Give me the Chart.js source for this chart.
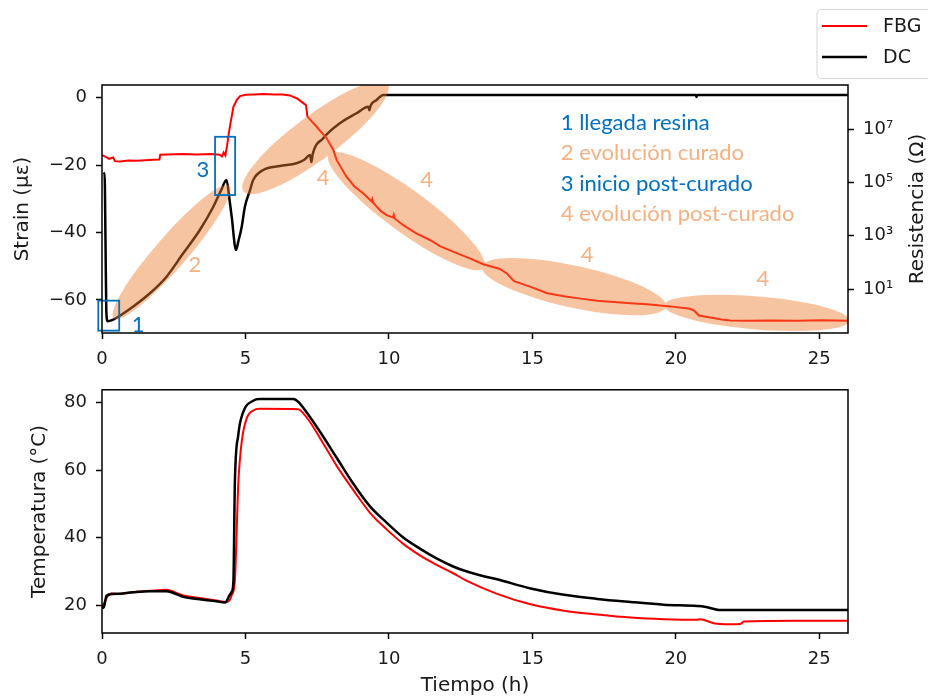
<!DOCTYPE html>
<html lang="es">
<head>
<meta charset="UTF-8">
<title>Strain, resistencia y temperatura</title>
<script src="https://cdn.jsdelivr.net/npm/chart.js@4.4.1/dist/chart.umd.min.js"></script>
<style>
    html, body { margin: 0; padding: 0; background: #fff; }
    #wrap { position: relative; width: 928px; height: 696px; overflow: hidden; }
    #strainChart { position: absolute; left: 0; top: 0; }
    #tempChart { position: absolute; left: 0; top: 370px; }
</style>
</head>
<body>
<div id="wrap">
    <canvas id="strainChart" width="928" height="380"></canvas>
    <canvas id="tempChart" width="928" height="326"></canvas>
</div>
<script>
// ---- data ----
const timeTicks = [0, 5, 10, 15, 20, 25];
const strainTicks = [-60, -40, -20, 0];
const resTicks = [10, 1e3, 1e5, 1e7];
const tempTicks = [20, 40, 60, 80];

// FBG strain (µε)
const tStrainFbg = [0, 0.1, 0.16, 0.25, 0.39, 0.45, 0.63, 0.92, 1.2, 1.5, 1.8, 2.0, 2.03, 2.3, 2.8, 3.3, 3.8, 4.1, 4.18, 4.24, 4.3,
    4.36, 4.42, 4.5, 4.58, 4.7, 4.81, 5.0, 5.3, 5.62, 6.0, 6.3, 6.55, 6.8, 6.96, 7.11, 7.16, 7.48, 7.83, 8.06, 8.18, 8.52, 8.8,
    9.11, 9.4, 9.42, 9.46, 9.7, 9.92, 10.14, 10.17, 10.21, 10.5, 10.97, 11.43, 11.78, 12.36, 12.8, 13.29, 13.87, 14.12, 14.36,
    14.94, 15.52, 16.1, 16.68, 17.26, 17.84, 18.42, 19.0, 19.81, 20.5, 20.65, 20.8, 21.2, 21.6, 21.9, 22.5, 23.3, 24.2, 25.1, 26];
const strainFbg = [-17.0, -17.4, -17.7, -18.1, -17.7, -18.8, -18.9, -18.6, -18.7, -18.5, -18.4, -18.3, -16.9, -16.8, -16.7, -16.8, -16.7, -16.9, -17.4, -16.2, -17.1,
    -14.2, -10.5, -6.5, -2.7, -0.6, 0.5, 0.9, 1.0, 1.1, 1.0, 1.0, 0.7, -0.2, -1.2, -2.2, -5.6, -8.6, -12.0, -15.5, -18.5, -23.4, -26.3,
    -28.4, -30.8, -30.1, -31.2, -33.5, -34.8, -35.5, -34.7, -35.9, -37.8, -40.3, -42.2, -44.0, -46.1, -47.6, -49.4, -50.8, -52.2, -54.4,
    -56.1, -58.0, -58.9, -59.6, -60.2, -60.6, -61.0, -61.3, -61.9, -62.6, -63.2, -64.6, -65.2, -65.8, -66.1, -66.2, -66.1, -66.2, -66.0, -66.2];

// DC resistance (Ω)
const tDc = [0.06, 0.09, 0.12, 0.15, 0.2, 0.35, 0.57, 1.09, 1.67, 2.25, 2.83, 3.41, 3.88, 4.15, 4.34, 4.45, 4.52, 4.67, 4.75, 4.87,
    4.98, 5.16, 5.27, 5.62, 6.2, 6.78, 7.05, 7.25, 7.3, 7.34, 7.71, 8.29, 8.87, 9.28, 9.32, 9.36, 9.57, 9.8, 20.7, 20.72, 20.74, 26];
const resDc = [2.0e5, 2.2e5, 1e3, 1.5, 0.62, 0.68, 0.91, 2.2, 6.9, 29, 218, 1630, 1.22e4, 5.0e4, 1.22e5, 2.0e4, 5150, 290, 600, 2170,
    1.22e4, 5.16e4, 1.22e5, 2.9e5, 4.1e5, 5.2e5, 7.0e5, 1.06e6, 5.8e5, 1.1e6, 4.5e6, 1.64e7, 3.9e7, 6.9e7, 5.1e7, 7.5e7, 1.22e8, 1.88e8, 1.88e8, 1.6e8, 1.88e8, 1.88e8];

// temperature (°C)
const tTempFbg = [0, 0.1, 0.2, 0.34, 0.5, 1.09, 1.67, 2.25, 2.4, 2.83, 3.41, 3.99, 4.34, 4.45, 4.52, 4.63, 4.75, 4.87, 5.04, 5.27,
    5.5, 6.84, 7.0, 7.25, 7.6, 8.18, 8.76, 9.34, 9.92, 10.5, 11.08, 11.66, 12.24, 12.7, 13.77, 14.94, 16.1, 17.26, 18.42, 19.58,
    20.74, 20.85, 21.32, 21.9, 22.25, 22.37, 24.2, 26];
const tempFbg = [19.3, 21.0, 22.8, 23.6, 23.3, 23.9, 24.3, 24.6, 24.3, 22.9, 22.2, 21.4, 21.0, 21.5, 23.0, 27.1, 56.0, 68.5, 75.3, 77.7,
    78.2, 78.1, 77.0, 74.3, 69.5, 61.3, 54.1, 47.4, 42.5, 38.2, 34.8, 32.0, 29.5, 27.3, 23.4, 20.3, 18.4, 17.3, 16.4, 15.9,
    15.7, 15.9, 14.7, 14.4, 14.5, 15.2, 15.4, 15.4];
const tTempDc = [0, 0.07, 0.16, 0.51, 1.09, 1.67, 2.25, 2.83, 3.41, 3.99, 4.29, 4.44, 4.52, 4.58, 4.63, 4.75, 4.92, 5.27, 5.5, 6.67,
    6.85, 7.13, 7.6, 8.18, 8.76, 9.34, 9.92, 10.5, 11.08, 11.66, 12.24, 12.61, 13.17, 13.77, 14.94, 16.1, 17.26, 18.42, 19.58,
    20.74, 21.0, 21.56, 21.9, 26];
const tempDc = [19.1, 19.6, 22.9, 23.4, 23.9, 24.2, 24.2, 22.5, 21.8, 21.2, 20.8, 22.9, 24.0, 27.1, 56.0, 70.5, 77.2, 80.6, 81.1, 81.1,
    80.2, 77.2, 71.4, 63.7, 56.0, 49.3, 44.5, 40.1, 36.8, 33.9, 31.5, 30.3, 28.9, 27.7, 25.0, 23.1, 21.9, 21.0, 20.2,
    19.8, 19.6, 18.6, 18.6, 18.6];

// ---- annotations on the strain plot (time, strain) ----
const ellipses = [
    { t: 2.42, s: -45.8, rx: 88, ry: 16, rot: -49 },
    { t: 7.44, s: -11.8, rx: 90, ry: 22, rot: -36.7 },
    { t: 10.61, s: -33.6, rx: 96, ry: 21, rot: 36.2 },
    { t: 16.45, s: -56.05, rx: 94, ry: 21, rot: 12.3 },
    { t: 22.82, s: -63.85, rx: 93, ry: 16.5, rot: 4.7 }
];
const boxes = [
    { t0: -0.13, t1: 0.60, s0: -60.2, s1: -69.1 },
    { t0: 3.94, t1: 4.64, s0: -11.57, s1: -28.86 }
];
const BLUE = '#0070C0';
const ORANGE = '#F4B183';
const marks = [
    { text: '1', t: 1.26, s: -67.4, color: BLUE },
    { text: '2', t: 3.24, s: -49.6, color: ORANGE },
    { text: '3', t: 3.52, s: -21.4, color: BLUE },
    { text: '4', t: 7.71, s: -23.9, color: ORANGE },
    { text: '4', t: 11.31, s: -24.4, color: ORANGE },
    { text: '4', t: 16.91, s: -46.6, color: ORANGE },
    { text: '4', t: 23.03, s: -53.6, color: ORANGE }
];
const keyLines = [
    { text: '1 llegada resina', s: -7.5, color: BLUE },
    { text: '2 evolución curado', s: -16.5, color: ORANGE },
    { text: '3 inicio post-curado', s: -25.6, color: BLUE },
    { text: '4 evolución post-curado', s: -34.5, color: ORANGE }
];
const keyT = 15.99;

Chart.defaults.font.family = "'DejaVu Sans', sans-serif";
Chart.defaults.color = '#1a1a1a';

const pts = (xs, ys) => xs.map((x, i) => ({ x: x, y: ys[i] }));
const minus = (v) => v < 0 ? '\u2212' + Math.abs(v) : String(v);
const sup = { 1: '\u00b9', 3: '\u00b3', 5: '\u2075', 7: '\u2077' };

const tickGrid = { drawOnChartArea: false, tickLength: 6, tickWidth: 1.5, tickColor: '#000' };

const frame = {
    id: 'frame',
    afterDraw(chart) {
        const { ctx, chartArea: a } = chart;
        ctx.save();
        ctx.strokeStyle = '#000';
        ctx.lineWidth = 1.5;
        ctx.strokeRect(a.left, a.top, a.right - a.left, a.bottom - a.top);
        ctx.restore();
    }
};

const notes = {
    id: 'notes',
    afterDatasetsDraw(chart) {
        const { ctx, chartArea: a, scales: { x, y } } = chart;
        ctx.save();
        ctx.beginPath();
        ctx.rect(a.left, a.top, a.right - a.left, a.bottom - a.top);
        ctx.clip();
        ctx.beginPath();
        for (const e of ellipses) {
            const cx = x.getPixelForValue(e.t), cy = y.getPixelForValue(e.s);
            const r = e.rot * Math.PI / 180;
            ctx.moveTo(cx + e.rx * Math.cos(r), cy + e.rx * Math.sin(r));
            ctx.ellipse(cx, cy, e.rx, e.ry, r, 0, 2 * Math.PI);
        }
        ctx.fillStyle = 'rgba(237,125,49,0.45)';
        ctx.fill('nonzero');
        ctx.restore();

        ctx.save();
        ctx.strokeStyle = BLUE;
        ctx.lineWidth = 1.8;
        for (const b of boxes) {
            const x0 = x.getPixelForValue(b.t0), x1 = x.getPixelForValue(b.t1);
            const y0 = y.getPixelForValue(b.s0), y1 = y.getPixelForValue(b.s1);
            ctx.strokeRect(x0, y0, x1 - x0, y1 - y0);
        }
        ctx.font = "22px Lato, 'Open Sans', sans-serif";
        ctx.textBaseline = 'middle';
        ctx.textAlign = 'center';
        for (const m of marks) {
            ctx.fillStyle = m.color;
            ctx.fillText(m.text, x.getPixelForValue(m.t), y.getPixelForValue(m.s));
        }
        ctx.textAlign = 'left';
        for (const k of keyLines) {
            ctx.fillStyle = k.color;
            ctx.fillText(k.text, x.getPixelForValue(keyT), y.getPixelForValue(k.s));
        }
        ctx.restore();
    }
};

const sideTitle = {
    id: 'sideTitle',
    afterDraw(chart) {
        const { ctx, chartArea: a } = chart;
        ctx.save();
        ctx.translate(918, (a.top + a.bottom) / 2);
        ctx.rotate(-Math.PI / 2);
        ctx.font = "20px 'DejaVu Sans'";
        ctx.fillStyle = '#1a1a1a';
        ctx.textAlign = 'center';
        ctx.textBaseline = 'middle';
        ctx.fillText('Resistencia (\u03a9)', 0, 0);
        ctx.restore();
    }
};

const legendBox = {
    id: 'legendBox',
    afterDraw(chart) {
        const ctx = chart.ctx;
        ctx.save();
        ctx.beginPath();
        ctx.roundRect(817, 9.5, 130, 69, 5);
        ctx.fillStyle = 'rgba(255,255,255,0.8)';
        ctx.fill();
        ctx.strokeStyle = '#d4d4d4';
        ctx.lineWidth = 1;
        ctx.stroke();
        const rows = [{ label: 'FBG', color: '#ff0000', y: 26, w: 2 }, { label: 'DC', color: '#000', y: 57, w: 2.5 }];
        ctx.font = "19px 'DejaVu Sans'";
        ctx.textBaseline = 'middle';
        for (const r of rows) {
            ctx.strokeStyle = r.color;
            ctx.lineWidth = r.w;
            ctx.beginPath();
            ctx.moveTo(822, r.y);
            ctx.lineTo(867, r.y);
            ctx.stroke();
            ctx.fillStyle = '#1a1a1a';
            ctx.fillText(r.label, 883, r.y + 1);
        }
        ctx.restore();
    }
};

// Strain + resistance
new Chart(document.getElementById('strainChart'), {
    type: 'line',
    data: {
        datasets: [
            { label: 'FBG', data: pts(tStrainFbg, strainFbg), borderColor: '#ff0000', borderWidth: 2, pointRadius: 0, yAxisID: 'y' },
            { label: 'DC', data: pts(tDc, resDc), borderColor: '#000', borderWidth: 2.5, pointRadius: 0, yAxisID: 'y1', cubicInterpolationMode: 'monotone' }
        ]
    },
    options: {
        responsive: false,
        animation: false,
        layout: { padding: { top: 85, left: 0, right: 0, bottom: 0 } },
        plugins: { legend: { display: false }, tooltip: { enabled: false } },
        scales: {
            x: {
                type: 'linear', min: 0, max: 26,
                afterBuildTicks: (s) => { s.ticks = timeTicks.map(v => ({ value: v })); },
                afterFit: (s) => { s.height = 47; },
                grid: tickGrid, border: { display: false },
                ticks: { font: { size: 18 }, padding: 10, maxRotation: 0 }
            },
            y: {
                type: 'linear', position: 'left', min: -69.8, max: 3.8,
                afterBuildTicks: (s) => { s.ticks = strainTicks.map(v => ({ value: v })); },
                afterFit: (s) => { s.width = 102; },
                grid: tickGrid, border: { display: false },
                ticks: { font: { size: 18 }, padding: 9, callback: (v) => minus(v) },
                title: { display: true, text: 'Strain (\u03bc\u03b5)', font: { size: 20 }, padding: { top: 11, bottom: 0 } }
            },
            y1: {
                type: 'logarithmic', position: 'right', min: 0.224, max: 4.47e8,
                afterBuildTicks: (s) => { s.ticks = resTicks.map(v => ({ value: v })); },
                afterFit: (s) => { s.width = 80; },
                grid: tickGrid, border: { display: false },
                ticks: { font: { size: 18 }, padding: 9, callback: (v) => '10' + sup[Math.round(Math.log10(v))] }
            }
        }
    },
    plugins: [notes, frame, sideTitle, legendBox]
});

// Temperature
new Chart(document.getElementById('tempChart'), {
    type: 'line',
    data: {
        datasets: [
            { label: 'DC', data: pts(tTempDc, tempDc), borderColor: '#000', borderWidth: 2.5, pointRadius: 0, cubicInterpolationMode: 'monotone' },
            { label: 'FBG', data: pts(tTempFbg, tempFbg), borderColor: '#ff0000', borderWidth: 2, pointRadius: 0, cubicInterpolationMode: 'monotone' }
        ]
    },
    options: {
        responsive: false,
        animation: false,
        layout: { padding: { top: 13.7, left: 0, right: 80, bottom: 0 } },
        plugins: { legend: { display: false }, tooltip: { enabled: false } },
        scales: {
            x: {
                type: 'linear', min: 0, max: 26,
                afterBuildTicks: (s) => { s.ticks = timeTicks.map(v => ({ value: v })); },
                afterFit: (s) => { s.height = 63; },
                grid: tickGrid, border: { display: false },
                ticks: { font: { size: 18 }, padding: 10, maxRotation: 0 },
                title: { display: true, text: 'Tiempo (h)', font: { size: 20, lineHeight: 1 }, padding: { top: 0, bottom: 0 } }
            },
            y: {
                type: 'linear', min: 11.8, max: 83.84,
                afterBuildTicks: (s) => { s.ticks = tempTicks.map(v => ({ value: v })); },
                afterFit: (s) => { s.width = 102; },
                grid: tickGrid, border: { display: false },
                ticks: { font: { size: 18 }, padding: 9 },
                title: { display: true, text: 'Temperatura (\u00b0C)', font: { size: 20 }, padding: { top: 27.5, bottom: 0 } }
            }
        }
    },
    plugins: [frame]
});
</script>
</body>
</html>
